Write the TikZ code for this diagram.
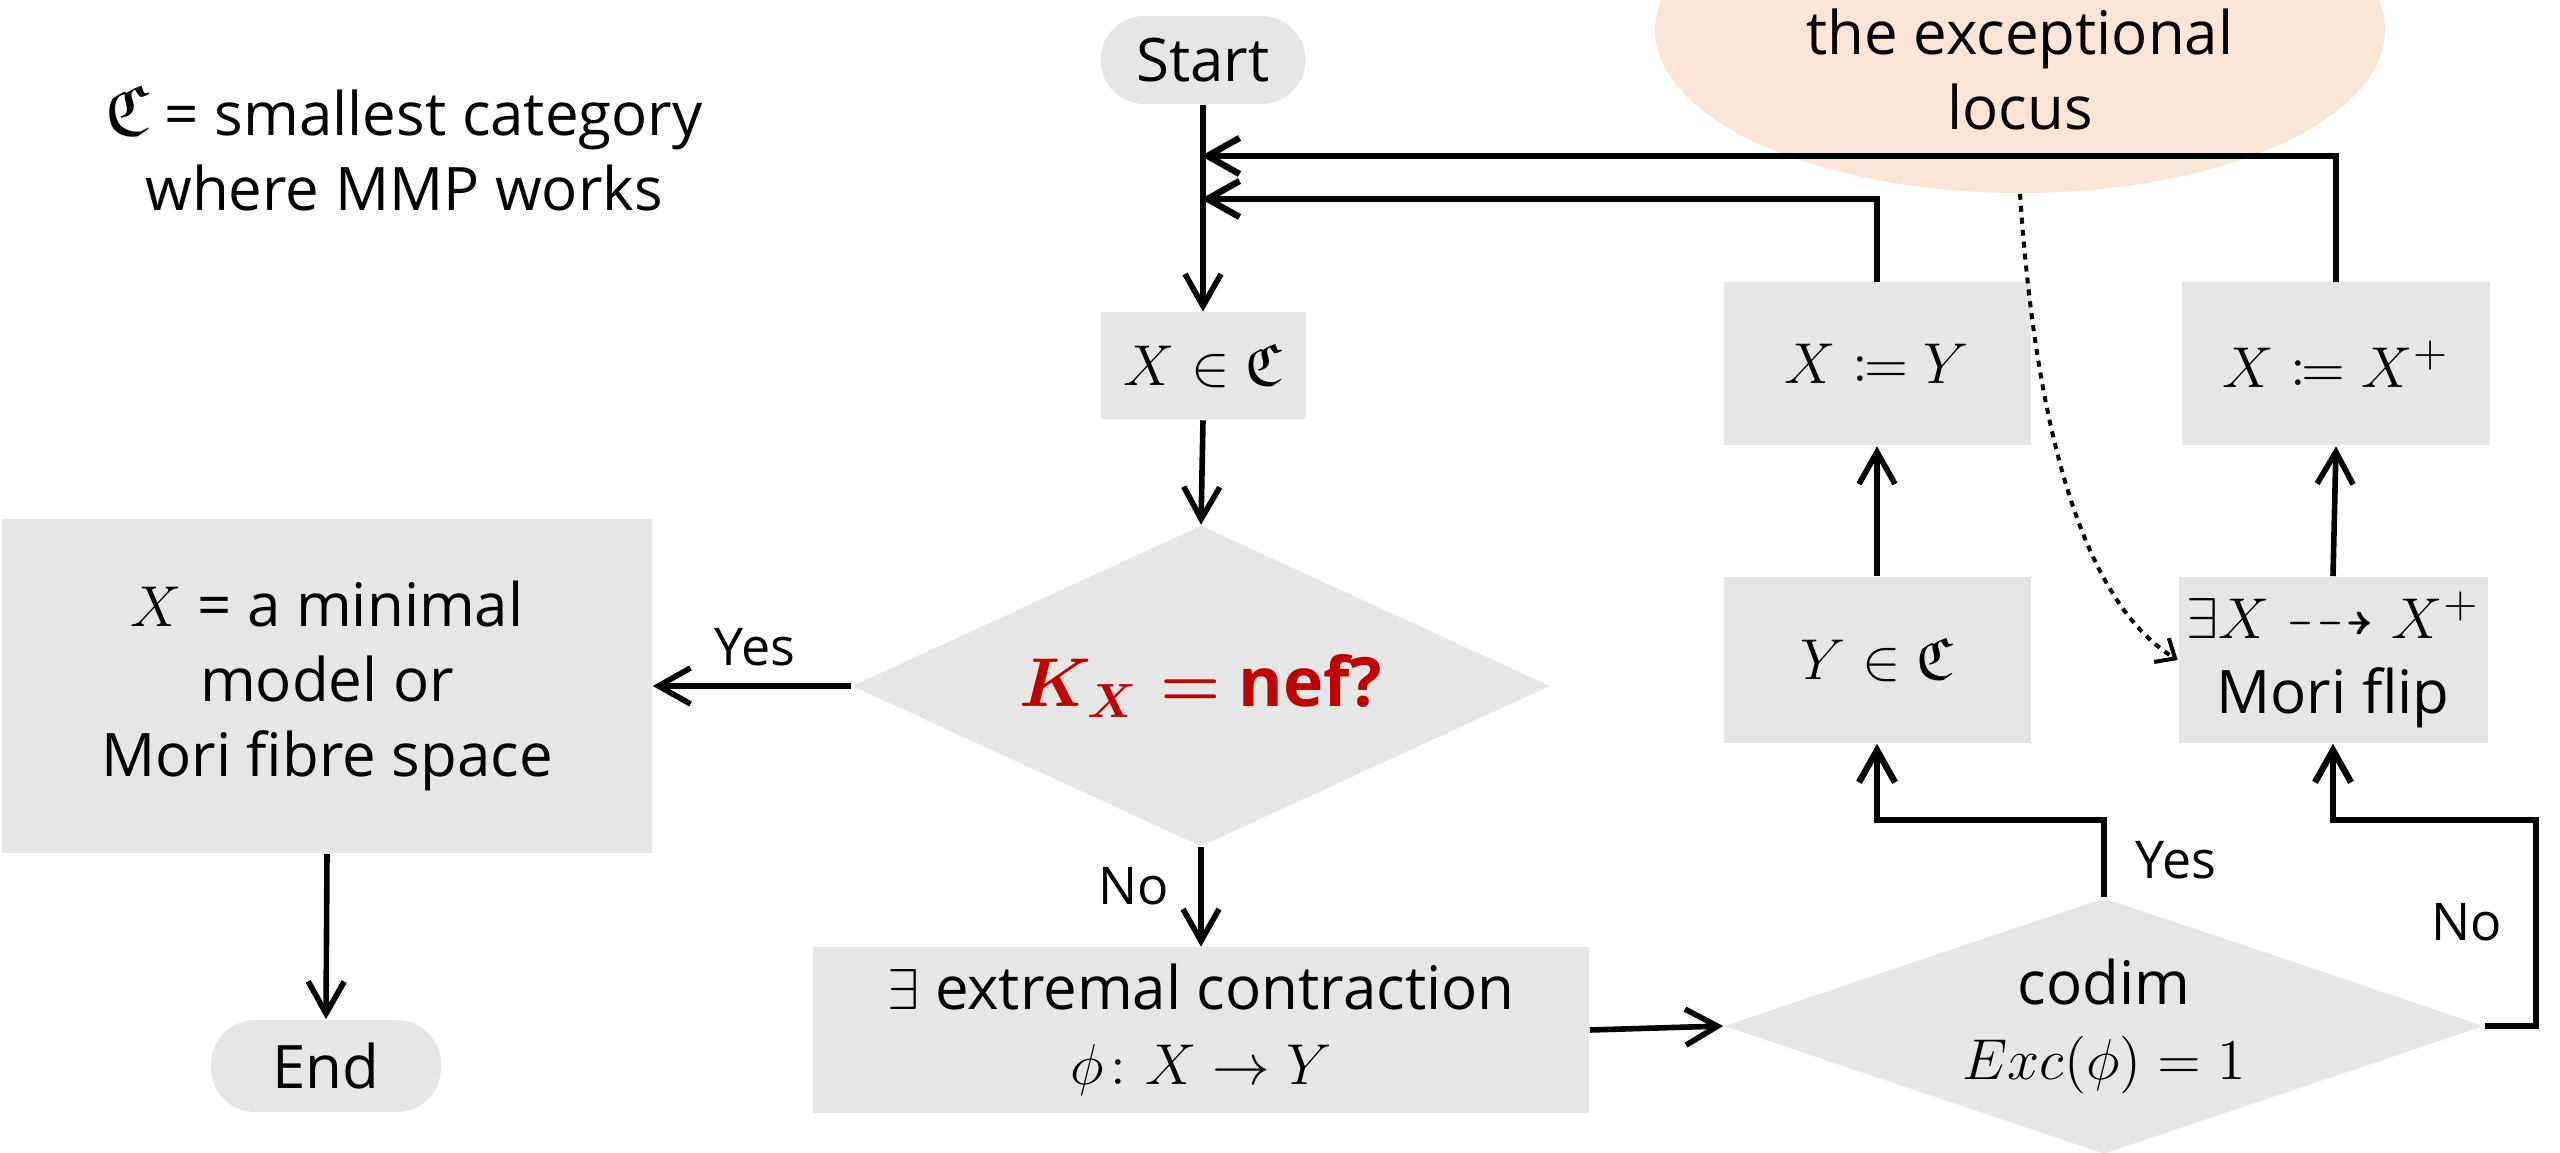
\documentclass[tikz,border=0pt]{standalone}
\usepackage{amsmath,amssymb,mathtools}
\usepackage{fontspec}
\setmainfont{Open Sans}
\usetikzlibrary{arrows.meta,shapes.geometric}
\definecolor{boxgray}{HTML}{E7E6E6}
\definecolor{peach}{HTML}{FBE5D6}
\definecolor{nefred}{HTML}{C00000}
\begin{document}
\begin{tikzpicture}[x=0.25pt,y=-0.25pt,
  every node/.style={font=\fontsize{15pt}{18.75pt}\selectfont, inner sep=0pt},
  box/.style={rectangle, fill=boxgray, align=center},
  term/.style={rectangle, rounded corners=11pt, fill=boxgray},
  dec/.style={diamond, fill=boxgray, align=center},
  arr/.style={line width=1.4pt, -{Straight Barb[length=8pt,width=9pt]}},
  route/.style={line width=1.6pt, -{Straight Barb[length=8pt,width=9pt]}},
  lbl/.style={font=\fontsize{13pt}{16pt}\selectfont}]
\useasboundingbox (0,0) rectangle (2560,1153);

% exceptional locus ellipse
\node[ellipse, fill=peach, minimum width=182.5pt, minimum height=81.5pt] (exc) at (2020,30) {};
\node[anchor=base] (ex1) at (2020,55) {the exceptional};
\node[anchor=base] (ex2) at (2020,130) {locus};

% annotation
\node[align=center] (note) at (404,148) {{\fontsize{18pt}{18pt}\selectfont$\mathfrak{C}$} = smallest category\\where MMP works};

% nodes
\node[term, minimum width=51.25pt, minimum height=22pt] (start) at (1203,60) {Start};
\node[box, minimum width=51.25pt, minimum height=26.75pt] (xinc) at (1203,366) {$X\in\mathfrak{C}$};
\node[dec, aspect=2.174, minimum width=174.5pt, minimum height=80.25pt] (nef) at (1201,686)
  {\fontsize{17pt}{20pt}\selectfont\color{nefred}$\boldsymbol{K_X=}$ \textbf{nef?}};
\node[box, minimum width=162.5pt, minimum height=83.5pt] (minm) at (327,686)
  {$X$ = a minimal\\model or\\Mori fibre space};
\node[term, minimum width=57.5pt, minimum height=23pt] (end) at (326,1066) {End};
\node[box, minimum width=194pt, minimum height=41.25pt] (extr) at (1201,1030)
  {$\exists$ extremal contraction\\$\phi\colon X\to Y$};
\node[dec, aspect=2.97, minimum width=190pt, minimum height=64pt] (codim) at (2104,1026)
  {codim\\$Exc(\phi)=1$};
\node[box, minimum width=76.75pt, minimum height=41.5pt] (yc) at (1877,660) {$Y\in\mathfrak{C}$};
\node[box, minimum width=77.25pt, minimum height=41.5pt] (flip) at (2333,660)
  {$\exists X \dashrightarrow X^{+}$\\Mori flip};
\node[box, minimum width=76.75pt, minimum height=40.75pt] (xy) at (1877,364) {$X\coloneqq Y$};
\node[box, minimum width=77pt, minimum height=40.75pt] (xx) at (2336,364) {$X\coloneqq X^{+}$};

% helper coordinates
\coordinate (f1) at (1201,156);
\coordinate (f2) at (1201,199);
\coordinate (yk) at (2104,820);
\coordinate (nk1) at (2536,1026);
\coordinate (nk2) at (2536,820);

% connectors
\draw[arr] (start.south) -- (xinc.north);
\draw[route] (xx.north) |- (f1);
\draw[route] (xy.north) |- (f2);
\draw[arr] (xinc.south) -- (nef.north);
\draw[arr] (nef.west) -- (minm.east);
\draw[arr] (nef.south) -- (extr.north);
\draw[arr] (minm.south) -- (end.north);
\draw[arr] (extr.east) -- (codim.west);
\draw[route] (codim.north) -- (yk) -| (yc.south);
\draw[route] (codim.east) -- (nk1) -- (nk2) -| (flip.south);
\draw[arr] (yc.north) -- (xy.south);
\draw[arr] (flip.north) -- (xx.south);
\draw[line width=1pt, dash pattern=on 1.5pt off 1.5pt, -{Straight Barb[length=4pt,width=7pt]}]
  (exc.south) .. controls (2035,420) and (2080,600) .. (flip.west);

% labels
\node[lbl] (yes1) at (755,647) {Yes};
\node[lbl] (no1) at (1134,886) {No};
\node[lbl] (yes2) at (2176,860) {Yes};
\node[lbl] (no2) at (2467,922) {No};
\end{tikzpicture}
\end{document}
